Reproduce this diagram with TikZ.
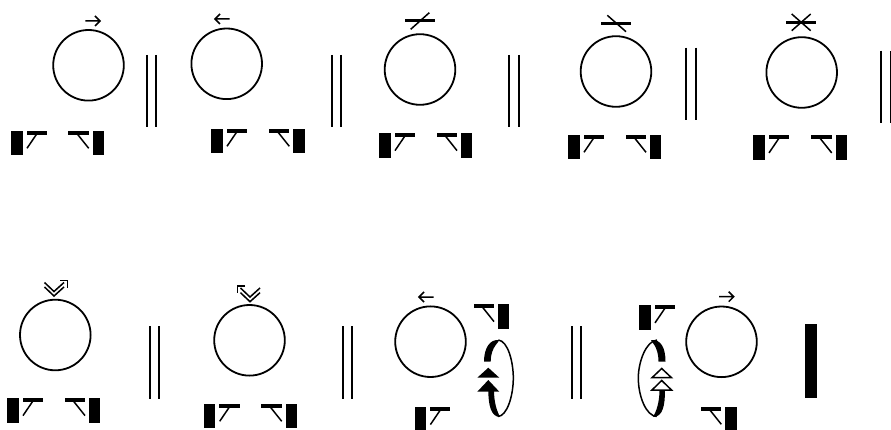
\documentclass[tikz,border=0pt]{standalone}
\begin{document}
\begin{tikzpicture}[x=1pt, y=-1pt,
    ring/.style={line width=1.8pt},
    rule/.style={line width=2pt},
    thinstroke/.style={line width=1.5pt},
    heavy/.style={line width=3.4pt}]
  \useasboundingbox (0, 0) rectangle (891, 430);

  % Circles
  \foreach \cx/\cy in {88.5/65.3, 226.7/63.8, 420/69.5, 616/71.5, 801.7/72.5,
                       55.3/335, 249.5/340.3, 430.5/341.7, 721.5/341.8}
    \draw[ring] (\cx, \cy) circle (35.3);

  % Double rules between the terms
  \foreach \rx/\ry in {146.7/55, 332/55, 509.3/55, 686.3/47.7, 881.3/50.7,
                       149.7/326, 342.7/326, 572/326}
    \draw[rule] (\rx, \ry) -- ++(0, 72.5) (\rx + 9.3, \ry) -- ++(0, 72.5);

  % Block with its tick opening to the right
  \foreach \bx/\by in {11.3/130.7, 211.3/128.7, 379.3/133, 568.3/134.7, 753.3/135.3,
                       7.3/398, 204/403.7, 414.7/407, 639.3/305.3} {
    \fill (\bx, \by) rectangle ++(11.3, 24.7);
    \fill (\bx + 15.4, \by) rectangle ++(20.3, 4);
    \draw[thinstroke] (\bx + 25.4, \by + 3.3) -- (\bx + 15.7, \by + 17.6);
  }

  % Block with its tick opening to the left
  \foreach \bx/\by in {92.7/130.7, 293.3/128.7, 461/133, 650/134.7, 835.7/135.3,
                       89/398, 285.7/403.7, 498/304, 725.3/406.7} {
    \fill (\bx, \by) rectangle ++(11.3, 24.7);
    \fill (\bx - 24.3, \by) rectangle ++(20.3, 4);
    \draw[thinstroke] (\bx - 15.4, \by + 3.3) -- (\bx - 4, \by + 17.6);
  }

  % Small arrows over the circles
  \foreach \ax/\ay in {85.3/21, 719/296.7}
    \draw[thinstroke] (\ax, \ay) -- ++(14.7, 0) ++(-5, -5) -- ++(5, 5) -- ++(-5, 5);
  \foreach \ax/\ay in {215/19, 419/297}
    \draw[thinstroke] (\ax + 14.5, \ay) -- (\ax, \ay) ++(5, -5) -- ++(-5, 5) -- ++(5, 5);

  % Bars crossed by a stroke
  \draw[heavy] (405.3, 20.7) -- (435, 20.7);
  \draw[thinstroke] (429.3, 12.7) -- (410.7, 29.3);
  \draw[heavy] (601.3, 23.3) -- (631, 23.3);
  \draw[thinstroke] (607.3, 15.3) -- (626, 31.7);
  \draw[heavy] (786, 22.3) -- (816, 22.3);
  \draw[thinstroke] (791.7, 14) -- (810.7, 30.7) (810.7, 14) -- (791.7, 30.7);

  % Double chevrons with a corner
  \draw[thinstroke] (44.5, 287) -- (54, 296) -- (64, 287);
  \draw[thinstroke] (44.5, 282.5) -- (54, 291.5) -- (64, 282.5);
  \draw[thinstroke] (60, 280.7) -- (67.3, 280.7) -- (67.3, 288.3);
  \draw[thinstroke] (240.5, 292.7) -- (250, 301.7) -- (260, 292.7);
  \draw[thinstroke] (240.5, 288) -- (250, 297) -- (260, 288);
  \draw[thinstroke] (245, 286) -- (237.3, 286) -- (237.3, 293.3);

  % Loop with black heads, right of the third circle
  \draw[thinstroke] (498.3, 340) .. controls (508, 341) and (513.3, 362) .. (513.3, 378)
    .. controls (513.3, 396) and (507, 416) .. (498, 416.5);
  \fill (484, 361.7) .. controls (484, 348) and (490, 339) .. (499, 340)
    .. controls (500, 342) and (490.7, 346) .. (490.7, 361.7) -- cycle;
  \fill (488.3, 390) .. controls (488.3, 405) and (491, 417) .. (500, 417)
    .. controls (497, 411) and (494, 403) .. (494, 390) -- cycle;
  \fill (488.3, 367.7) -- (477.3, 377.7) -- (499.3, 377.7) -- cycle;
  \fill (488.3, 380) -- (477.3, 391.7) -- (499.3, 391.7) -- cycle;

  % Loop with open heads, left of the fourth circle
  \draw[thinstroke] (657, 340) .. controls (646, 341) and (638.3, 362) .. (638.3, 378)
    .. controls (638.3, 396) and (646, 416) .. (656.7, 416.5);
  \fill (665.5, 361.7) .. controls (665.5, 348) and (661, 339) .. (651, 340)
    .. controls (651, 342) and (658.5, 346) .. (658.5, 361.7) -- cycle;
  \fill (665, 390) .. controls (665, 405) and (663, 417) .. (653, 417)
    .. controls (656, 412) and (659.5, 403) .. (659.5, 390) -- cycle;
  \draw[thinstroke, fill=white] (661.7, 380.5) -- (652, 390) -- (671.5, 390) -- cycle;
  \draw[thinstroke, fill=white] (661.7, 368.5) -- (652, 377.7) -- (671.5, 377.7) -- cycle;

  % Single block at the far right
  \fill (804.7, 324.3) rectangle (817.3, 397.7);
\end{tikzpicture}
\end{document}
